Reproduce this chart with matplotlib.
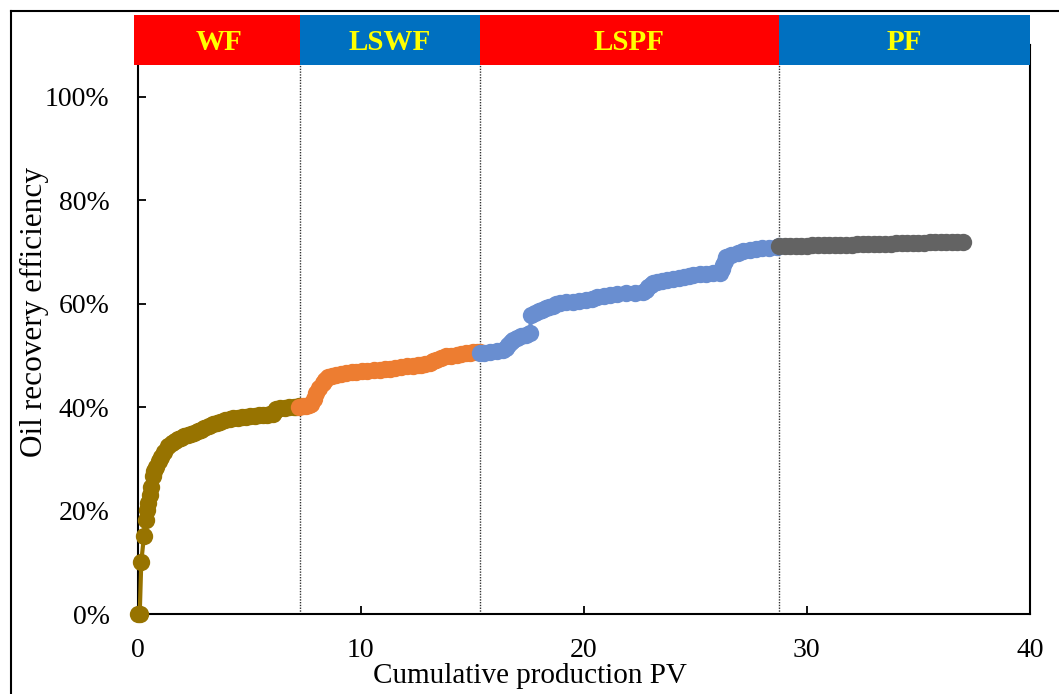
import matplotlib
matplotlib.use("Agg")
import matplotlib.pyplot as plt
from matplotlib.ticker import PercentFormatter
from matplotlib.patches import Rectangle
from matplotlib.lines import Line2D
from matplotlib.transforms import blended_transform_factory

plt.rcParams["font.family"] = ["Liberation Serif", "DejaVu Serif"]

# Flooding stages and their boundaries (cumulative PV)
stage_names = ["WF", "LSWF", "LSPF", "PF"]
stage_edges = [0.0, 7.3, 15.34, 28.75, 40.0]
stage_fill = ["#FF0000", "#0070C0", "#FF0000", "#0070C0"]

# Water flooding
wf_pv = [0, 0.1, 0.17, 0.29, 0.39, 0.44, 0.49, 0.58, 0.61, 0.69, 0.76, 0.84,
         0.95, 1.06, 1.2, 1.36, 1.55, 1.7, 1.81, 1.95, 2.1, 2.25, 2.41, 2.55,
         2.7, 2.85, 3.0, 3.2, 3.38, 3.55, 3.7, 3.9, 4.13, 4.3, 4.5, 4.7, 4.87,
         5.05, 5.25, 5.45, 5.62, 5.8, 5.95, 6.07, 6.15, 6.22, 6.4, 6.6, 6.8,
         7.0, 7.12, 7.25]
wf_rf = [0, 0, 10.1, 15.1, 18.2, 20.1, 21.4, 23.0, 24.6, 26.6, 27.6, 28.5,
         29.5, 30.4, 31.4, 32.4, 33.1, 33.5, 33.8, 34.1, 34.4, 34.6, 34.8, 35.05,
         35.3, 35.6, 35.9, 36.3, 36.7, 36.95, 37.2, 37.45, 37.7, 37.8, 37.9, 38.0, 38.1,
         38.2, 38.3, 38.4, 38.5, 38.55, 38.6, 38.7, 39.2, 39.7, 39.85, 39.9, 40.0,
         40.05, 40.1, 40.2]

# Low-salinity water flooding
lswf_pv = [7.26, 7.4, 7.55, 7.7, 7.79, 7.9, 8.01, 8.15, 8.31, 8.42, 8.54,
           8.7, 8.9, 9.1, 9.36, 9.6, 9.8, 10.05, 10.3, 10.6, 10.85, 11.1,
           11.3, 11.55, 11.8, 12.1, 12.35, 12.55, 12.7, 12.9, 13.09, 13.25,
           13.4, 13.6, 13.84, 14.05, 14.3, 14.5, 14.74, 14.9, 15.05, 15.2,
           15.34]
lswf_rf = [40.1, 40.2, 40.3, 40.5, 40.6, 41.6, 42.7, 43.6, 44.6, 45.3, 45.9,
           46.1, 46.3, 46.45, 46.6, 46.7, 46.8, 46.9, 47.0, 47.1, 47.2, 47.3,
           47.4, 47.55, 47.7, 47.85, 48.0, 48.1, 48.2, 48.35, 48.5, 48.85,
           49.2, 49.5, 49.8, 49.95, 50.1, 50.25, 50.4, 50.5, 50.6, 50.65,
           50.7]

# Low-salinity polymer flooding
lspf_pv = [15.34, 15.55, 15.8, 16.1, 16.38, 16.5, 16.6, 16.72, 16.83, 17.0,
           17.2, 17.4, 17.6, 17.63, 17.8, 18.0, 18.15, 18.33, 18.45, 18.6,
           18.75, 18.92, 19.2, 19.5, 19.8, 20.12, 20.35, 20.6, 20.9, 21.17,
           21.5, 21.9, 22.3, 22.66, 22.8, 22.9, 23.0, 23.11, 23.3, 23.5,
           23.75, 24.0, 24.25, 24.5, 24.7, 24.9, 25.2, 25.5, 25.8, 26.1,
           26.18, 26.25, 26.32, 26.39, 26.6, 26.9, 27.15, 27.44, 27.7, 28.0,
           28.3, 28.64, 28.75]
lspf_rf = [50.4, 50.55, 50.7, 50.9, 51.1, 51.5, 52.0, 52.5, 53.0, 53.4,
           53.7, 54.0, 54.3, 57.8, 58.2, 58.5, 58.8, 59.1, 59.35, 59.6,
           59.85, 60.1, 60.25, 60.4, 60.55, 60.7, 60.95, 61.2, 61.45, 61.7,
           61.85, 62.0, 62.15, 62.3, 62.7, 63.2, 63.6, 64.0, 64.2, 64.4,
           64.6, 64.8, 65.0, 65.2, 65.4, 65.6, 65.7, 65.8, 65.85, 65.9,
           66.7, 67.5, 68.3, 69.1, 69.4, 69.8, 70.1, 70.4, 70.55, 70.7,
           70.85, 71.0, 71.1]

# Polymer flooding
pf_pv = [28.75, 29.0, 29.25, 29.5, 29.75, 30.0, 30.25, 30.5, 30.75, 31.0,
         31.25, 31.5, 31.75, 32.0, 32.25, 32.5, 32.75, 33.0, 33.25, 33.5,
         33.75, 34.0, 34.25, 34.5, 34.75, 35.0, 35.25, 35.5, 35.75, 36.0,
         36.25, 36.5, 36.75, 37.0]
pf_rf = [71.2, 71.2, 71.2, 71.2, 71.22, 71.23, 71.25, 71.27, 71.3, 71.32,
         71.35, 71.37, 71.4, 71.42, 71.45, 71.47, 71.5, 71.52, 71.55, 71.57,
         71.6, 71.65, 71.7, 71.72, 71.75, 71.77, 71.8, 71.82, 71.85, 71.87,
         71.9, 71.92, 71.96, 72.0]

x_ticks = [0, 10, 20, 30, 40]
y_ticks = [0, 20, 40, 60, 80, 100]

fig = plt.figure(figsize=(10.59, 6.94), dpi=100)
ax = fig.add_axes([137.5 / 1059, 80 / 694, 892.5 / 1059, 569 / 694])

series = [
    (wf_pv, wf_rf, "#977300"),
    (lswf_pv, lswf_rf, "#ED7D31"),
    (lspf_pv, lspf_rf, "#698ED0"),
    (pf_pv, pf_rf, "#636363"),
]
for i, (xs, ys, c) in enumerate(series):
    ax.plot(xs, ys, color=c, lw=3, marker="o", markersize=12.5,
            markeredgewidth=0, solid_capstyle="round",
            solid_joinstyle="round", zorder=3 + i, clip_on=False)

ax.set_xlim(0, 40)
ax.set_ylim(0, 110)
ax.set_xticks(x_ticks)
ax.set_yticks(y_ticks)
ax.yaxis.set_major_formatter(PercentFormatter(xmax=100, decimals=0))

for s in ax.spines.values():
    s.set_linewidth(1.5)
    s.set_color("black")
ax.tick_params(axis="both", direction="in", length=6, width=1.3,
               labelsize=20, colors="black")
ax.tick_params(axis="x", pad=17)
ax.tick_params(axis="y", pad=20)

ax.set_xlabel("Cumulative production PV", fontsize=21)
ax.set_ylabel("Oil recovery efficiency", fontsize=22.5)
ax.xaxis.set_label_coords(0.44, -0.086)
ax.yaxis.set_label_coords(-0.099, 0.53)

# Stage banner above the plot
trans = blended_transform_factory(ax.transData, ax.transAxes)
banner_bottom, banner_top = 0.9642, 1.0536
for i, name in enumerate(stage_names):
    x0 = stage_edges[i] - (0.17 if i == 0 else 0)
    x1 = stage_edges[i + 1]
    ax.add_patch(Rectangle((x0, banner_bottom), x1 - x0, banner_top - banner_bottom,
                           transform=trans, facecolor=stage_fill[i],
                           edgecolor="none", clip_on=False, zorder=8))
    ax.text((stage_edges[i] + x1) / 2, (banner_bottom + banner_top) / 2 - 0.004,
            name, transform=trans, ha="center", va="center", fontsize=21,
            fontweight="bold", color="#FFFF00", zorder=9)

# Stage boundaries
for xb in stage_edges[1:-1]:
    ax.plot([xb, xb], [0, banner_bottom], transform=trans, color="#333333",
            lw=1, linestyle=(0, (1, 1)), clip_on=False, zorder=2)

# Frame around the figure
fig.add_artist(Line2D([11 / 1059, 11 / 1059], [0, 1 - 11 / 694],
                      transform=fig.transFigure, color="black", lw=1.5))
fig.add_artist(Line2D([11 / 1059, 1], [1 - 11 / 694, 1 - 11 / 694],
                      transform=fig.transFigure, color="black", lw=1.5))

fig.savefig("out.png", dpi=100)
